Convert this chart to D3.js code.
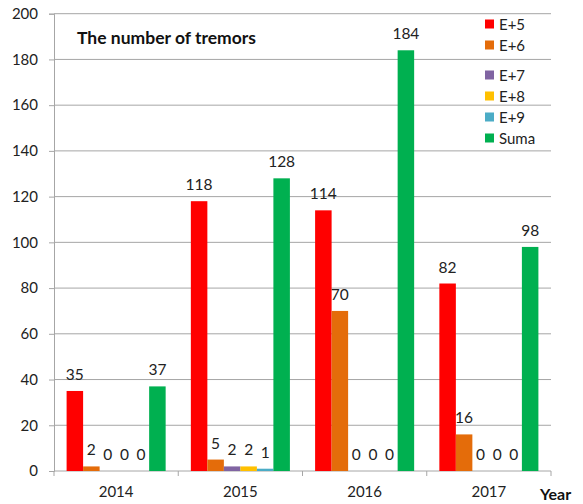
<!DOCTYPE html>
<html>
<head>
<meta charset="utf-8">
<script src="https://cdn.jsdelivr.net/npm/d3@7"></script>
<style>
  html, body { margin: 0; padding: 0; background: #fff; }
  svg { display: block; font-family: Lato, "Open Sans", sans-serif; }
</style>
</head>
<body>
<svg id="chart" width="583" height="504"></svg>
<script>
// Yearly counts of tremors by energy class
const years = ["2014", "2015", "2016", "2017"];
const seriesNames = ["E+5", "E+6", "E+7", "E+8", "E+9", "Suma"];
const e5 = [35, 118, 114, 82];
const e6 = [2, 5, 70, 16];
const e7 = [0, 2, 0, 0];
const e8 = [0, 2, 0, 0];
const e9 = [0, 1, 0, 0];
const suma = [37, 128, 184, 98];
const yTicks = [0, 20, 40, 60, 80, 100, 120, 140, 160, 180, 200];
const colors = ["#ff0000", "#e46c0a", "#8064a2", "#ffc000", "#4bacc6", "#00b050"];
const title = "The number of tremors";
const axisTitle = "Year";

const seriesValues = [e5, e6, e7, e8, e9, suma];

const svg = d3.select("#chart");
const plotLeft = 54, plotRight = 551, plotTop = 13.7, plotBottom = 471;
const grid = "#a6a6a6";

const y = d3.scaleLinear().domain([0, 200]).range([plotBottom, plotTop]);
const x0 = d3.scaleBand().domain(years).range([plotLeft, plotRight]).padding(0);
const inset = 12.6;
const x1 = d3.scaleBand().domain(seriesNames)
  .range([inset, x0.bandwidth() - inset]).padding(0);
const color = d3.scaleOrdinal().domain(seriesNames).range(colors);

// horizontal gridlines
svg.append("g").selectAll("line")
  .data(yTicks.filter(t => t > 0))
  .join("line")
  .attr("x1", plotLeft).attr("x2", plotRight)
  .attr("y1", d => y(d)).attr("y2", d => y(d))
  .attr("stroke", grid).attr("stroke-width", 1);

// y axis
const yAxis = svg.append("g")
  .attr("transform", `translate(${plotLeft},0)`)
  .call(d3.axisLeft(y).tickValues(yTicks).tickSize(5).tickPadding(11));
yAxis.select(".domain").attr("stroke", grid);
yAxis.selectAll(".tick line").attr("stroke", grid);
yAxis.selectAll(".tick text")
  .attr("font-size", 15).attr("fill", "#222")
  .attr("font-family", "Lato, 'Open Sans', sans-serif");

// x axis with ticks at category boundaries
const xAxisG = svg.append("g");
xAxisG.append("line")
  .attr("x1", plotLeft).attr("x2", plotRight)
  .attr("y1", plotBottom).attr("y2", plotBottom)
  .attr("stroke", grid);
const boundaries = years.map(yr => x0(yr)).concat([x0(years[years.length - 1]) + x0.bandwidth()]);
xAxisG.selectAll("line.bt").data(boundaries).join("line")
  .attr("class", "bt")
  .attr("x1", d => d).attr("x2", d => d)
  .attr("y1", plotBottom).attr("y2", plotBottom + 5)
  .attr("stroke", grid);
xAxisG.selectAll("text").data(years).join("text")
  .attr("x", d => x0(d) + x0.bandwidth() / 2)
  .attr("y", plotBottom + 26)
  .attr("text-anchor", "middle")
  .attr("font-size", 15).attr("fill", "#222")
  .text(d => d);

svg.append("text")
  .attr("x", 540).attr("y", 500)
  .attr("font-size", 16).attr("font-weight", "bold").attr("fill", "#111")
  .text(axisTitle);

// bars
const groups = svg.append("g").selectAll("g")
  .data(years.map((yr, i) => ({
    year: yr,
    items: seriesNames.map((s, k) => ({ key: s, value: seriesValues[k][i] }))
  })))
  .join("g")
  .attr("transform", d => `translate(${x0(d.year)},0)`);

groups.selectAll("rect")
  .data(d => d.items)
  .join("rect")
  .attr("x", d => x1(d.key))
  .attr("width", x1.bandwidth())
  .attr("y", d => y(d.value))
  .attr("height", d => y(0) - y(d.value))
  .attr("fill", d => color(d.key));

groups.selectAll("text")
  .data(d => d.items)
  .join("text")
  .attr("x", d => x1(d.key) + x1.bandwidth() / 2)
  .attr("y", d => y(d.value) - 11)
  .attr("text-anchor", "middle")
  .attr("font-size", 15.5).attr("fill", "#222")
  .text(d => d.value);

// title
svg.append("text")
  .attr("x", 77).attr("y", 44)
  .attr("font-size", 17.5).attr("font-weight", "bold").attr("fill", "#111")
  .text(title);

// legend
const legend = svg.append("g").selectAll("g")
  .data(seriesNames)
  .join("g")
  .attr("transform", (d, i) => `translate(485,${24 + i * 21 + (i >= 2 ? 9 : 0)})`);
legend.append("rect")
  .attr("x", 0).attr("y", -4.5).attr("width", 9).attr("height", 9)
  .attr("fill", d => color(d));
legend.append("text")
  .attr("x", 14).attr("y", 5.5)
  .attr("font-size", 15).attr("fill", "#222")
  .text(d => d);
</script>
</body>
</html>
